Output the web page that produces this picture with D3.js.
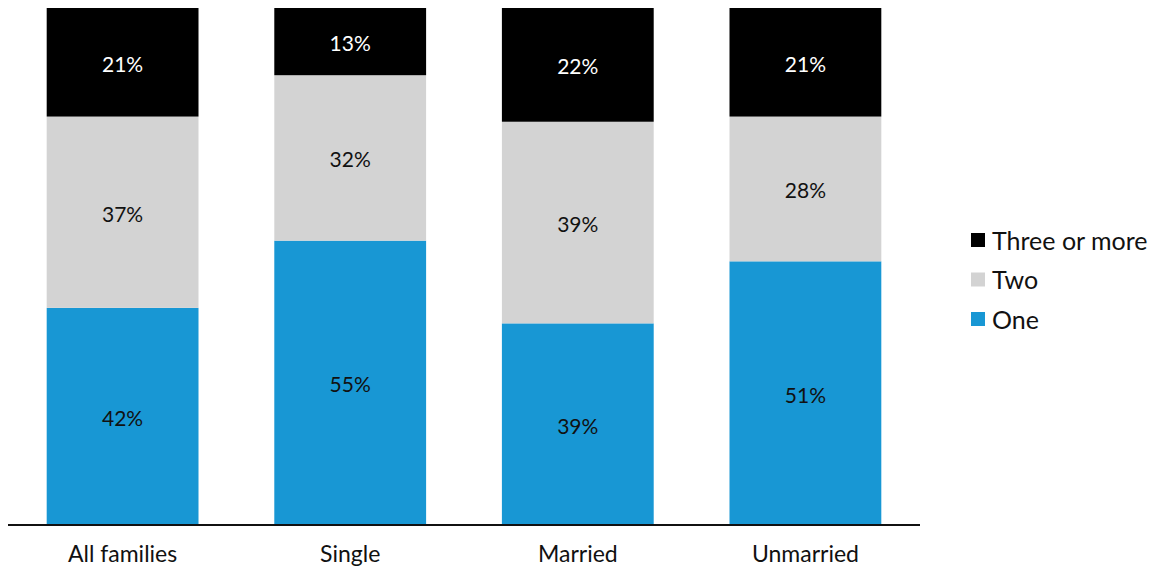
<!DOCTYPE html>
<html>
<head>
<meta charset="utf-8">
<script src="https://cdn.jsdelivr.net/npm/d3@7"></script>
<style>
  html, body { margin: 0; padding: 0; background: #fff; }
  svg text { font-family: Lato, "Open Sans", sans-serif; }
</style>
</head>
<body>
<svg id="chart" width="1155" height="570"></svg>
<script>
// Share of families by number of children, by family type
const categories = ["All families", "Single", "Married", "Unmarried"];
const seriesNames = ["One", "Two", "Three or more"];
const one = [42, 55, 39, 51];
const two = [37, 32, 39, 28];
const threeOrMore = [21, 13, 22, 21];
const colors = ["#1897d4", "#d3d3d3", "#000000"];
const labelColors = ["#111111", "#111111", "#ffffff"];

const rows = categories.map((c, i) => ({
  category: c,
  "One": one[i],
  "Two": two[i],
  "Three or more": threeOrMore[i]
}));

const svg = d3.select("#chart");
const margin = { left: 8, right: 235, top: 8, bottom: 45 };
const W = 1155, H = 570;

const x = d3.scaleBand()
  .domain(categories)
  .range([margin.left, W - margin.right])
  .paddingInner(0.333)
  .paddingOuter(0.17);

const y = d3.scaleLinear()
  .domain([0, 100])
  .range([H - margin.bottom, margin.top]);

const stack = d3.stack().keys(seriesNames);
const layers = stack(rows);

const g = svg.append("g");

layers.forEach((layer, li) => {
  const lg = g.append("g");
  lg.selectAll("rect")
    .data(layer)
    .join("rect")
    .attr("x", d => x(d.data.category))
    .attr("width", x.bandwidth())
    .attr("y", d => y(d[1]))
    .attr("height", d => y(d[0]) - y(d[1]))
    .attr("fill", colors[li]);

  lg.selectAll("text")
    .data(layer)
    .join("text")
    .attr("x", d => x(d.data.category) + x.bandwidth() / 2)
    .attr("y", d => (y(d[0]) + y(d[1])) / 2 + 2)
    .attr("dy", "0.35em")
    .attr("text-anchor", "middle")
    .attr("font-size", 21)
    .attr("fill", labelColors[li])
    .text(d => (d[1] - d[0]) + "%");
});

// Category axis along the baseline
const axis = svg.append("g")
  .attr("transform", `translate(0,${y(0)})`)
  .call(d3.axisBottom(x).tickSize(0).tickPadding(21));
axis.select(".domain")
  .attr("stroke", "#111")
  .attr("stroke-width", 2)
  .attr("d", `M${margin.left},0H${W - margin.right}`);
axis.selectAll(".tick text")
  .attr("font-size", 23)
  .attr("fill", "#111")
  .style("font-family", "Lato, 'Open Sans', sans-serif");

// Legend, top series first
const legend = svg.append("g").attr("transform", "translate(971,240)");
const legendItems = seriesNames.map((s, i) => ({ name: s, color: colors[i] })).reverse();
const li = legend.selectAll("g")
  .data(legendItems)
  .join("g")
  .attr("transform", (d, i) => `translate(0,${i * 39.5})`);
li.append("rect")
  .attr("x", 0)
  .attr("y", -7)
  .attr("width", 14)
  .attr("height", 14)
  .attr("fill", d => d.color);
li.append("text")
  .attr("x", 21)
  .attr("y", 1)
  .attr("dy", "0.35em")
  .attr("font-size", 25)
  .attr("fill", "#111")
  .text(d => d.name);
</script>
</body>
</html>
